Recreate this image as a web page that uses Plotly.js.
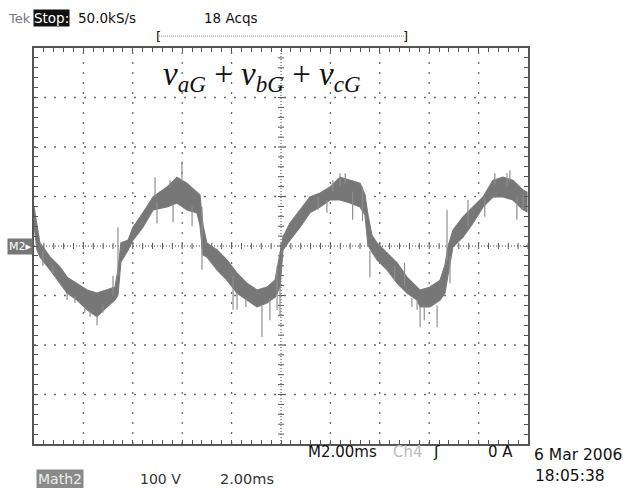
<!DOCTYPE html>
<html><head><meta charset="utf-8">
<script src="https://cdn.plot.ly/plotly-3.0.1.min.js"></script>
<style>html,body{margin:0;padding:0;background:#fff;}#c{width:623px;height:488px;}</style>
</head><body><div id="c"></div>
<script>
// time (ms) across 10 divisions of 2.00 ms
const timeMs = [0.00,0.12,0.24,0.65,1.05,1.34,1.74,2.15,2.55,2.96,3.28,3.40,3.52,3.81,4.01,4.41,4.82,5.38,5.79,6.19,6.60,6.72,6.84,7.00,7.41,7.81,8.22,8.62,9.03,9.43,9.76,9.96,10.08,10.36,10.77,11.17,11.58,11.98,12.39,12.79,13.20,13.40,13.52,13.68,13.89,14.29,14.70,15.10,15.51,15.63,16.03,16.44,16.64,16.76,16.96,17.37,17.77,18.18,18.58,18.99,19.39,19.80,19.96];
// upper and lower envelope of the noisy Math2 trace (V)
const vUpper = [79,42,6,-22,-42,-63,-75,-89,-95,-89,-83,-48,6,12,38,67,99,119,139,127,107,103,42,6,-8,-28,-55,-75,-89,-83,-69,-14,18,46,73,99,107,119,139,133,127,103,63,22,6,-14,-34,-63,-83,-89,-83,-69,-38,-2,32,59,79,99,133,139,133,113,109];
const vLower = [42,-8,-22,-48,-75,-95,-109,-129,-143,-123,-109,-99,-32,-8,12,38,73,79,87,73,67,42,-18,-22,-48,-69,-95,-109,-123,-115,-103,-83,-8,12,38,67,79,93,93,87,79,63,2,-12,-28,-48,-75,-95,-109,-123,-123,-109,-95,-59,-2,18,46,79,99,99,93,73,69];
// noise spikes: time (ms), start value (V), end value (V)
const spikeT    = [0.36,0.77,1.34,1.66,2.06,2.27,2.55,2.79,3.20,3.40,4.90,4.98,5.51,5.63,5.99,6.40,6.80,8.06,8.22,8.58,9.23,9.55,9.84,9.96,11.50,11.86,12.10,12.39,12.60,12.90,13.30,13.60,14.60,15.00,15.30,15.51,15.63,15.80,16.32,16.72,16.84,17.57,18.25,18.66,19.15,19.27,19.55,19.80];
const spikeFrom = [-10,-40,-95,-100,-125,-130,-140,-120,-100,-60,99,90,119,85,130,80,79,-60,-95,-105,-120,-105,-42,-83,100,93,110,120,125,110,120,-10,-40,-80,-105,-109,-123,-120,-120,-30,-20,40,99,125,120,130,100,105];
const spikeTo   = [-40,-55,-109,-115,-135,-143,-160,-135,-60,38,139,46,133,48,170,40,-48,-129,-129,-123,-184,-150,-129,-143,73,67,133,147,147,53,50,-63,-70,-34,-123,-129,-164,-150,-164,73,-75,93,59,147,147,153,53,73];

// labels
const scopeTop = {tek:"Tek", stop:"Stop:", rate:"50.0kS/s", acqs:"18 Acqs"};
const scopeBottom = {time:"M2.00ms", ch:"Ch4", trig:"0 A", date:"6 Mar 2006", clock:"18:05:38", math:"Math2", scale:"100 V", tscale:"2.00ms", marker:"M2▸"};
const formula = "<i>v</i><sub><i>aG</i></sub> + <i>v</i><sub><i>bG</i></sub> + <i>v</i><sub><i>cG</i></sub>";

const X0=0, X1=20, Y0=-400, Y1=400;

// band polygon
const bandX = timeMs.concat(timeMs.slice().reverse());
const bandY = vUpper.concat(vLower.slice().reverse());
const spX=[], spY=[];
for(let i=0;i<spikeT.length;i++){spX.push(spikeT[i],spikeT[i],null);spY.push(spikeFrom[i],spikeTo[i],null);}

const traces = [
 {x:bandX,y:bandY,type:'scatter',mode:'lines',fill:'toself',fillcolor:'#777',line:{color:'#7b7b7b',width:1.2},hoverinfo:'skip',showlegend:false},
 {x:spX,y:spY,type:'scatter',mode:'lines',line:{color:'#8e8e8e',width:1.2},hoverinfo:'skip',showlegend:false}
];

const shapes=[];
const gridC='#6a6a6a';
for(let t=2;t<20;t+=2){ if(t===10) continue;
 shapes.push({type:'line',xref:'x',yref:'y',x0:t,x1:t,y0:Y0,y1:Y1,line:{color:gridC,width:1.3,dash:'2px,8px'},layer:'below'});}
for(let v=-300;v<=300;v+=100){ if(v===0) continue;
 shapes.push({type:'line',xref:'x',yref:'y',x0:X0,x1:X1,y0:v,y1:v,line:{color:gridC,width:1.3,dash:'2px,8px'},layer:'below'});}
// center crosshair
shapes.push({type:'line',xref:'x',yref:'y',x0:10,x1:10,y0:Y0,y1:Y1,line:{color:'#444',width:1,dash:'1px,2px'},layer:'below'});
shapes.push({type:'line',xref:'x',yref:'y',x0:X0,x1:X1,y0:0,y1:0,line:{color:'#444',width:1,dash:'1px,2px'},layer:'below'});
for(let t=0.4;t<20;t+=0.4){
 shapes.push({type:'line',xref:'x',yref:'y',ysizemode:'pixel',yanchor:0,x0:t,x1:t,y0:-3,y1:3,line:{color:'#555',width:1},layer:'below'});}
for(let v=-380;v<400;v+=20){
 shapes.push({type:'line',xref:'x',yref:'y',xsizemode:'pixel',xanchor:10,y0:v,y1:v,x0:-3,x1:3,line:{color:'#555',width:1},layer:'below'});}
// record bracket line
shapes.push({type:'line',xref:'paper',yref:'paper',x0:0.253,x1:0.75,y0:1.03,y1:1.03,line:{color:'#888',width:1,dash:'1px,1px'}});

function px2xp(px){return (px-34)/494;}
function py2yp(py){return (444-py)/396;}
const F='DejaVu Sans';
const ann=[
 {text:scopeTop.tek,x:px2xp(6),y:py2yp(18),xanchor:'left',yanchor:'middle',font:{family:F,size:13,color:'#777'}},
 {text:scopeTop.stop,x:px2xp(33),y:py2yp(18),xanchor:'left',yanchor:'middle',font:{family:F,size:13.5,color:'#fff'},bgcolor:'#111',borderpad:0},
 {text:scopeTop.rate,x:px2xp(76),y:py2yp(18),xanchor:'left',yanchor:'middle',font:{family:F,size:13.5,color:'#111'}},
 {text:scopeTop.acqs,x:px2xp(202),y:py2yp(18),xanchor:'left',yanchor:'middle',font:{family:F,size:13.5,color:'#111'}},
 {text:'[',x:px2xp(158),y:py2yp(36),xanchor:'center',yanchor:'middle',font:{family:F,size:13,color:'#111'}},
 {text:']',x:px2xp(405),y:py2yp(36),xanchor:'center',yanchor:'middle',font:{family:F,size:13,color:'#111'}},
 {text:formula,x:px2xp(262),y:py2yp(77),xanchor:'center',yanchor:'middle',font:{family:'Liberation Serif',size:33,color:'#111'}},
 {text:scopeBottom.time,x:px2xp(306),y:py2yp(452),xanchor:'left',yanchor:'middle',font:{family:F,size:15,color:'#111'}},
 {text:scopeBottom.ch,x:px2xp(391),y:py2yp(452),xanchor:'left',yanchor:'middle',font:{family:F,size:15,color:'#bbb'}},
 {text:'ʃ',x:px2xp(436),y:py2yp(452),xanchor:'center',yanchor:'middle',font:{family:F,size:16,color:'#111'}},
 {text:scopeBottom.trig,x:px2xp(515),y:py2yp(452),xanchor:'right',yanchor:'middle',font:{family:F,size:15,color:'#111'}},
 {text:scopeBottom.date,x:px2xp(532),y:py2yp(455),xanchor:'left',yanchor:'middle',font:{family:F,size:15.5,color:'#111'}},
 {text:scopeBottom.clock,x:px2xp(533),y:py2yp(476),xanchor:'left',yanchor:'middle',font:{family:F,size:15.5,color:'#111'}},
 {text:scopeBottom.math,x:px2xp(36),y:py2yp(479),xanchor:'left',yanchor:'middle',font:{family:F,size:14,color:'#eee'},bgcolor:'#8a8a8a',borderpad:1},
 {text:scopeBottom.scale,x:px2xp(138),y:py2yp(479),xanchor:'left',yanchor:'middle',font:{family:F,size:14,color:'#333'}},
 {text:scopeBottom.tscale,x:px2xp(218),y:py2yp(479),xanchor:'left',yanchor:'middle',font:{family:F,size:14.5,color:'#333'}},
 {text:scopeBottom.marker,x:px2xp(7),y:py2yp(246),xanchor:'left',yanchor:'middle',font:{family:F,size:11,color:'#fff'},bgcolor:'#777',borderpad:1}
].map(a=>Object.assign({xref:'paper',yref:'paper',showarrow:false},a));

const layout={
 width:623,height:488,margin:{l:34,r:95,t:48,b:44},
 paper_bgcolor:'#fff',plot_bgcolor:'#fff',showlegend:false,
 xaxis:{range:[X0,X1],showgrid:false,zeroline:false,showticklabels:false,ticks:'inside',dtick:0.4,tick0:0,ticklen:4,tickcolor:'#555',tickwidth:1,showline:true,linecolor:'#555',linewidth:2,mirror:'ticks'},
 yaxis:{range:[Y0,Y1],showgrid:false,zeroline:false,showticklabels:false,ticks:'inside',dtick:20,tick0:0,ticklen:4,tickcolor:'#555',tickwidth:1,showline:true,linecolor:'#555',linewidth:2,mirror:'ticks'},
 shapes:shapes,annotations:ann
};
Plotly.newPlot('c',traces,layout,{staticPlot:true,displayModeBar:false});
</script></body></html>
